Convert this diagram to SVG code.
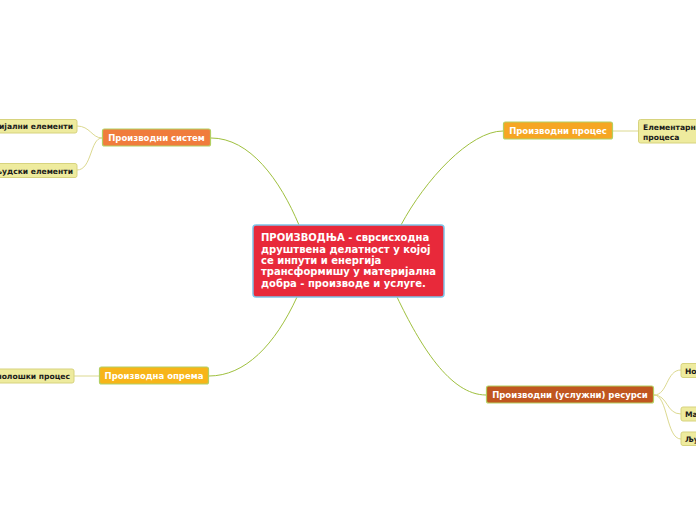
<svg xmlns="http://www.w3.org/2000/svg" width="696" height="520" viewBox="0 0 696 520">
<style>
text{font-family:"DejaVu Sans","Verdana",sans-serif;font-weight:bold}
.main{stroke:#b3cf62;stroke-width:1.2}
.mt{fill:#fff;font-size:8.5px}
.leaf{fill:#eeeb9e;stroke:#d7d37e;stroke-width:1}
.lt{fill:#1a1a1a;font-size:7.6px}
.c1{fill:none;stroke:#9fc03e;stroke-width:1}
.c2{fill:none;stroke:#dcd990;stroke-width:1}
</style>
<rect width="696" height="520" fill="#fff"/>
<g id="connectors">
<path class="c1" d="M211,138 C250,138 280,180 299,225"/>
<path class="c1" d="M401,225 C425,180 470,131 503,131"/>
<path class="c1" d="M297,297 C275,345 245,376 209,376"/>
<path class="c1" d="M397,297 C420,345 450,395 486,395"/>
<path class="c2" d="M102,138 C92,138 90,126 77,126"/>
<path class="c2" d="M102,138 C90,138 92,170 77,170"/>
<path class="c2" d="M99,376 L74,376"/>
<path class="c2" d="M613,131 L638,131"/>
<path class="c2" d="M654,395 C668,395 666,370 681,370"/>
<path class="c2" d="M654,395 C668,395 666,414 681,414"/>
<path class="c2" d="M654,395 C668,395 666,439 681,439"/>
</g>
<g id="center">
<rect x="253" y="225" width="191" height="72" rx="3" fill="#e8293a" stroke="#7dc4e8" stroke-width="1.5"/>
<text fill="#fff" font-size="10px" x="261"><tspan x="261" y="241">ПРОИЗВОДЊА - сврсисходна</tspan><tspan x="261" y="252.6">друштвена делатност у којој</tspan><tspan x="261" y="264">се инпути и енергија</tspan><tspan x="261" y="275.4">трансформишу у материјална</tspan><tspan x="261" y="286.8">добра - производе и услуге.</tspan></text>
</g>
<g id="sistem">
<rect class="main" x="102.5" y="129" width="108" height="17" rx="2" fill="#f07c3c"/>
<text class="mt" x="156.5" y="140.8" text-anchor="middle">Производни систем</text>
</g>
<g id="proces">
<rect class="main" x="503.5" y="122" width="109" height="17" rx="2" fill="#f6a623"/>
<text class="mt" x="558" y="133.8" text-anchor="middle">Производни процес</text>
</g>
<g id="oprema">
<rect class="main" x="99.5" y="367" width="109" height="17" rx="2" fill="#f7b519"/>
<text class="mt" x="154" y="378.8" text-anchor="middle">Производна опрема</text>
</g>
<g id="resursi">
<rect class="main" x="486.5" y="386" width="167" height="17" rx="2" fill="#c0561f"/>
<text class="mt" x="570" y="397.8" text-anchor="middle">Производни (услужни) ресурси</text>
</g>
<g id="leaf-materijalni">
<rect class="leaf" x="-10" y="119.5" width="87" height="13.5" rx="2"/>
<text class="lt" x="73" y="129" text-anchor="end">ријални елементи</text>
</g>
<g id="leaf-ljudski">
<rect class="leaf" x="-10" y="163.5" width="87" height="14" rx="2"/>
<text class="lt" x="73" y="173.5" text-anchor="end">ьудски елементи</text>
</g>
<g id="leaf-tehnoloski">
<rect class="leaf" x="-10" y="369" width="84" height="14" rx="2"/>
<text class="lt" x="70" y="379" text-anchor="end">нолошки процес</text>
</g>
<g id="leaf-elementarni">
<rect class="leaf" x="638.5" y="119.5" width="70" height="23.5" rx="2"/>
<text class="lt"><tspan x="643" y="130">Елементарни</tspan><tspan x="643" y="139.5">процеса</tspan></text>
</g>
<g id="leaf-no">
<rect class="leaf" x="681" y="363.5" width="30" height="14" rx="2"/>
<text class="lt" x="685" y="373.5">Но</text>
</g>
<g id="leaf-ma">
<rect class="leaf" x="681" y="407" width="30" height="14" rx="2"/>
<text class="lt" x="685" y="417">Ма</text>
</g>
<g id="leaf-lju">
<rect class="leaf" x="681" y="432" width="30" height="13.5" rx="2"/>
<text class="lt" x="685" y="442">Љу</text>
</g>
</svg>
